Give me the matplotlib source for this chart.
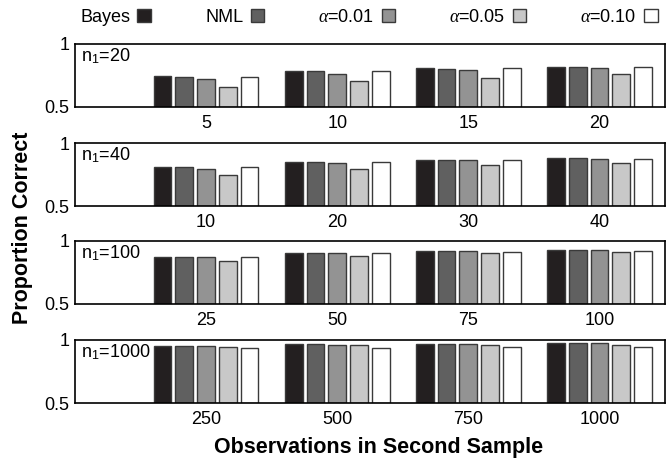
import numpy as np
import matplotlib
matplotlib.use('Agg')
import matplotlib.pyplot as plt

# data ----------------------------------------------------
methods = ['Bayes', 'NML', r'$\alpha$=0.01', r'$\alpha$=0.05', r'$\alpha$=0.10']
colors = ['#231f20', '#606060', '#939393', '#c8c8c8', '#ffffff']

n1_values = [20, 40, 100, 1000]
n2_ticks = [
    [5, 10, 15, 20],
    [10, 20, 30, 40],
    [25, 50, 75, 100],
    [250, 500, 750, 1000],
]

# rows: Bayes, NML, a=0.01, a=0.05, a=0.10
prop_n1_20 = [
    [0.748, 0.786, 0.807, 0.820],
    [0.740, 0.786, 0.805, 0.817],
    [0.722, 0.764, 0.791, 0.807],
    [0.656, 0.709, 0.730, 0.759],
    [0.738, 0.783, 0.807, 0.817],
]
prop_n1_40 = [
    [0.811, 0.849, 0.867, 0.878],
    [0.808, 0.849, 0.864, 0.880],
    [0.798, 0.843, 0.862, 0.875],
    [0.745, 0.798, 0.827, 0.841],
    [0.808, 0.849, 0.867, 0.875],
]
prop_n1_100 = [
    [0.875, 0.907, 0.923, 0.926],
    [0.872, 0.907, 0.920, 0.928],
    [0.872, 0.904, 0.920, 0.926],
    [0.843, 0.883, 0.904, 0.915],
    [0.872, 0.904, 0.910, 0.918],
]
prop_n1_1000 = [
    [0.955, 0.968, 0.971, 0.976],
    [0.953, 0.966, 0.971, 0.976],
    [0.950, 0.963, 0.971, 0.976],
    [0.947, 0.958, 0.963, 0.963],
    [0.934, 0.940, 0.945, 0.947],
]
panels = [prop_n1_20, prop_n1_40, prop_n1_100, prop_n1_1000]

# style ---------------------------------------------------
plt.rcParams['font.family'] = ['Liberation Sans', 'DejaVu Sans']
plt.rcParams['mathtext.fontset'] = 'custom'
plt.rcParams['mathtext.rm'] = 'Liberation Sans'
plt.rcParams['mathtext.it'] = 'Liberation Serif:italic'

fig = plt.figure(figsize=(6.72, 4.61), dpi=100)

# axes boxes in figure fractions (left, bottom, width, height)
ax_bottoms = [0.768, 0.553, 0.3406, 0.1258]
ax_left, ax_w, ax_h = 0.1116, 0.878, 0.1367

step = 0.166
width = 0.135
groups = np.arange(1, 5)

bars_for_legend = []
for p, (data, ticks, n1) in enumerate(zip(panels, n2_ticks, n1_values)):
    ax = fig.add_axes([ax_left, ax_bottoms[p], ax_w, ax_h])
    for k, (vals, col) in enumerate(zip(data, colors)):
        b = ax.bar(
            groups + (k - 2) * step,
            np.array(vals) - 0.5,
            width,
            bottom=0.5,
            color=col,
            edgecolor='#3a3a3a',
            linewidth=1.0,
            label=methods[k],
            zorder=2,
        )
        if p == 0:
            bars_for_legend.append(b)
    ax.set_xlim(0, 4.5)
    ax.set_ylim(0.5, 1)
    ax.set_xticks(groups)
    ax.set_xticklabels([str(t) for t in ticks], fontsize=13)
    ax.set_yticks([0.5, 1])
    ax.set_yticklabels(['0.5', '1'], fontsize=13)
    ax.tick_params(axis='x', length=0, pad=6)
    ax.tick_params(axis='y', length=0, pad=4)
    for sp in ax.spines.values():
        sp.set_linewidth(1.2)
        sp.set_zorder(3)
    ax.text(0.011, 0.96, 'n$_1$=%d' % n1, transform=ax.transAxes,
            ha='left', va='top', fontsize=13)

# legend --------------------------------------------------
fig.legend(
    handles=bars_for_legend,
    labels=methods,
    loc='center',
    bbox_to_anchor=(0.549, 0.963),
    ncol=5,
    frameon=False,
    markerfirst=False,
    fontsize=13,
    handlelength=0.75,
    handleheight=0.75,
    handletextpad=0.4,
    columnspacing=3.0,
)

# labels --------------------------------------------------
fig.text(0.033, 0.505, 'Proportion Correct', rotation=90, ha='center',
         va='center', fontsize=15.5, fontweight='bold')
fig.text(0.563, 0.03, 'Observations in Second Sample', ha='center',
         va='center', fontsize=15.5, fontweight='bold')

plt.savefig('out.png', dpi=100)
